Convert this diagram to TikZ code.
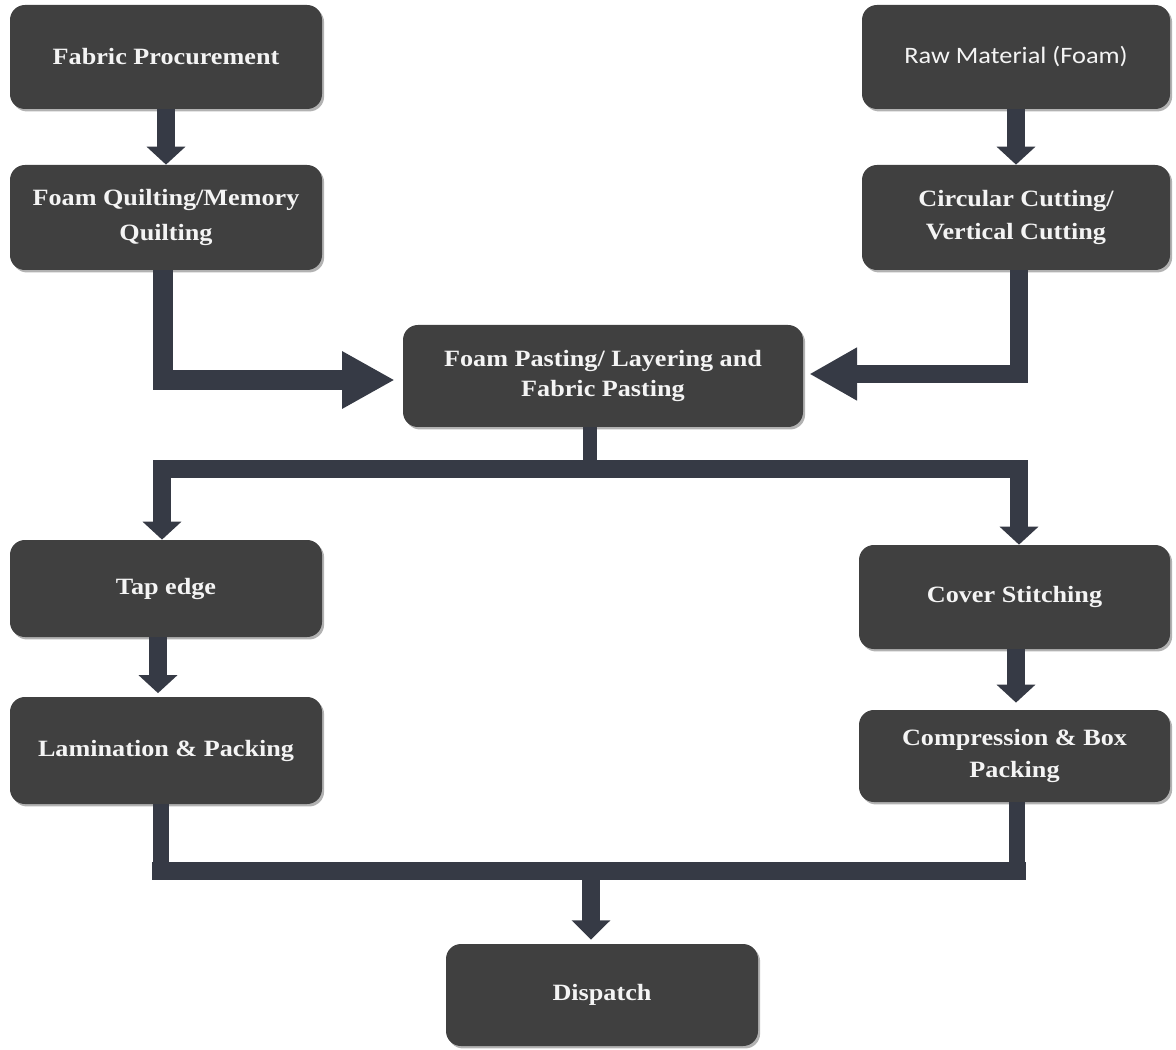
\documentclass[tikz,border=0pt]{standalone}
\usepackage{fontspec}
\setmainfont{Liberation Serif}[FakeStretch=1.12]
\newfontfamily\rawfont{Carlito}[FakeStretch=1.12]
\usetikzlibrary{arrows.meta,shadows}
\definecolor{boxc}{HTML}{404040}
\definecolor{arrc}{HTML}{363A45}
\definecolor{txtc}{HTML}{F4F4F4}
\tikzset{
  proc/.style={draw=none, fill=boxc, rounded corners=8.5pt, text=txtc, align=center,
    inner sep=0pt, font=\bfseries\fontsize{13.3}{19}\selectfont,
    drop shadow={shadow xshift=1.2pt, shadow yshift=-1.4pt, opacity=0.3, fill=black}},
  flow/.style={draw=arrc, line width=10pt, line join=miter},
  sflow/.style={flow, line width=10pt, -{Triangle[length=10.2pt,width=21.5pt]}},
  bigflowL/.style={flow, line width=11.9pt, -{Triangle[length=30pt,width=30.6pt]}},
  bigflowR/.style={flow, line width=10.2pt, -{Triangle[length=27.2pt,width=28.3pt]}},
  bar/.style={flow, line width=10.6pt, line cap=rect}
}
\begin{document}
\begin{tikzpicture}[x=0.02cm, y=-0.02cm]
\useasboundingbox (0,0) rectangle (1176,1050);

% boxes
\node[proc, minimum width=312*0.02cm, minimum height=104*0.02cm] (fabric) at (166,57) {Fabric Procurement};
\node[proc, minimum width=308*0.02cm, minimum height=104*0.02cm, font=\rawfont\fontsize{13.4}{19}\selectfont] (raw) at (1016,57) {Raw Material (Foam)};
\node[proc, minimum width=312*0.02cm, minimum height=105*0.02cm, font=\bfseries\fontsize{13.3}{19.5}\selectfont] (fq) at (166,217.5) {Foam Quilting/Memory\\Quilting};
\node[proc, minimum width=308*0.02cm, minimum height=105*0.02cm, font=\bfseries\fontsize{13.3}{19}\selectfont] (cc) at (1016,217.5) {Circular Cutting/\\Vertical Cutting};
\node[proc, minimum width=400*0.02cm, minimum height=102*0.02cm, font=\bfseries\fontsize{13.3}{17.6}\selectfont] (fp) at (603,376) {Foam Pasting/ Layering and\\Fabric Pasting};
\node[proc, minimum width=312*0.02cm, minimum height=97*0.02cm] (tap) at (166,588.5) {Tap edge};
\node[proc, minimum width=312*0.02cm, minimum height=107*0.02cm] (lam) at (166,750.5) {Lamination \& Packing};
\node[proc, minimum width=311*0.02cm, minimum height=104*0.02cm] (cover) at (1014.5,597) {Cover Stitching};
\node[proc, minimum width=311*0.02cm, minimum height=92*0.02cm, font=\bfseries\fontsize{13.3}{18.5}\selectfont] (comp) at (1014.5,756) {Compression \& Box\\Packing};
\node[proc, minimum width=312*0.02cm, minimum height=102*0.02cm] (disp) at (602,995) {Dispatch};

% top connectors
\draw[sflow] (fabric.south) -- (fq.north);
\draw[sflow] (raw.south) -- (cc.north);
\coordinate (fqv) at (163,380);
\coordinate (ccv) at (1019,374);
\draw[bigflowL, shorten >=4.5pt] (fq.south -| fqv) -- (fqv) -- (fqv -| fp.west);
\draw[bigflowR, shorten >=3.4pt] (cc.south -| ccv) -- (ccv) -- (ccv -| fp.east);

% split
\coordinate (sj) at (590,469);
\coordinate (sl) at (162,469);
\coordinate (sr) at (1019,469);
\draw[flow, line width=8pt] (fp.south -| sj) -- (sj);
\draw[bar] (sl) -- (sr);
\draw[sflow] (sl) -- (tap.north -| sl);
\draw[sflow] (sr) -- (cover.north -| sr);

% side arrows
\coordinate (tl) at (158,600);
\draw[sflow, shorten >=2pt] (tap.south -| tl) -- (lam.north -| tl);
\coordinate (cr) at (1016,600);
\draw[sflow, shorten >=4pt] (cover.south -| cr) -- (comp.north -| cr);

% join
\coordinate (bl) at (161,871);
\coordinate (br) at (1017,871);
\coordinate (bj) at (591,871);
\draw[flow, line width=9pt] (lam.south -| bl) -- (bl);
\draw[flow, line width=9.5pt] (comp.south -| br) -- (br);
\draw[bar] (bl) -- (br);
\draw[sflow, line width=10.5pt, -{Triangle[length=11pt,width=21.5pt]}, shorten >=2.3pt] (bj) -- (disp.north -| bj);
\end{tikzpicture}
\end{document}
